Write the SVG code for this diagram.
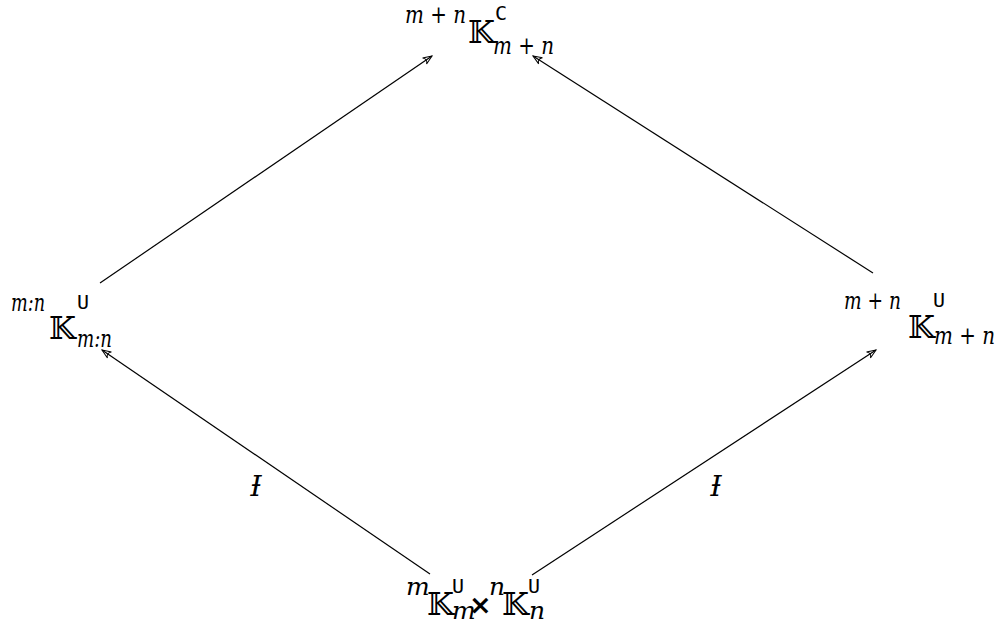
<svg xmlns="http://www.w3.org/2000/svg" width="997" height="621" viewBox="0 0 997 621">
<defs>
<marker id="arr" viewBox="-10 -6 12 12" refX="0" refY="0" markerWidth="12" markerHeight="12" markerUnits="userSpaceOnUse" orient="auto">
<path d="M -9,-3.6 L 0,0 L -9,3.6 M -9,-3.6 Q -5,0 -9,3.6" fill="none" stroke="#000" stroke-width="1"/>
</marker>
<style>
.it{font-family:'DejaVu Serif',serif;font-style:italic;font-size:25px;fill:#000}
.lb{font-family:'DejaVu Serif',serif;font-style:italic;font-size:28px;fill:#000}
.bb{font-family:'DejaVu Serif','DejaVu Sans',serif;font-size:31px;fill:#000}
.sf{font-family:'DejaVu Sans Mono',monospace;font-size:20px;fill:#000}
.x{font-family:'DejaVu Sans',sans-serif;font-size:27px;font-weight:bold;fill:#000}
.edge{stroke:#000;stroke-width:1.2;fill:none;marker-end:url(#arr)}
</style>
</defs>
<g id="connectors">
<line class="edge" x1="100" y1="283" x2="432" y2="56"/>
<line class="edge" x1="873" y1="273" x2="533" y2="56"/>
<line class="edge" x1="430" y1="574" x2="102" y2="350"/>
<line class="edge" x1="532" y1="575" x2="876" y2="350"/>
<text class="lb" x="256" y="496" text-anchor="middle">Ɨ</text>
<text class="lb" x="716" y="496" text-anchor="middle">Ɨ</text>
</g>
<g id="top">
<text class="it" x="405" y="23" textLength="61" lengthAdjust="spacingAndGlyphs">m + n</text>
<text class="bb" x="468" y="43">𝕂</text>
<text class="sf" x="495" y="20">C</text>
<text class="it" x="493" y="54" textLength="61" lengthAdjust="spacingAndGlyphs">m + n</text>
</g>
<g id="left">
<text class="it" x="11" y="311" textLength="34" lengthAdjust="spacingAndGlyphs">m:n</text>
<text class="bb" x="49" y="339">𝕂</text>
<text class="sf" x="77" y="309">U</text>
<text class="it" x="77" y="347" textLength="35" lengthAdjust="spacingAndGlyphs">m:n</text>
</g>
<g id="right">
<text class="it" x="844" y="309" textLength="57" lengthAdjust="spacingAndGlyphs">m + n</text>
<text class="bb" x="908" y="338">𝕂</text>
<text class="sf" x="933" y="307">U</text>
<text class="it" x="934" y="344" textLength="61" lengthAdjust="spacingAndGlyphs">m + n</text>
</g>
<g id="bottom">
<text class="it" x="406" y="595">m</text>
<text class="bb" x="427" y="615">𝕂</text>
<text class="sf" x="452" y="593">U</text>
<text class="it" x="452" y="619" font-size="20">m</text>
<text class="x" x="469" y="614">×</text>
<text class="it" x="489" y="595">n</text>
<text class="bb" x="502" y="615">𝕂</text>
<text class="sf" x="528" y="593">U</text>
<text class="it" x="529" y="619" font-size="20">n</text>
</g>
</svg>
